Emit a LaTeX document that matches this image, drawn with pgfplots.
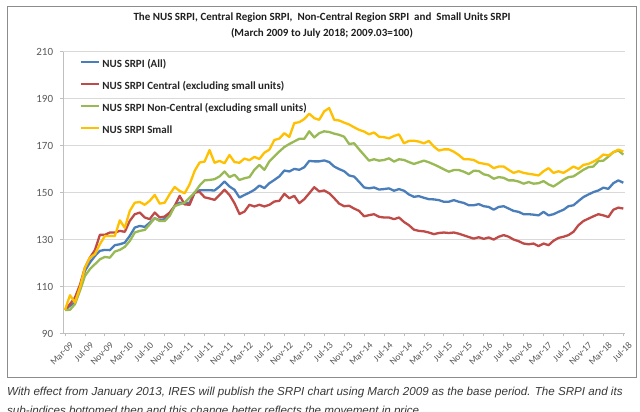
\documentclass[border=0pt]{standalone}
\usepackage{fontspec}
\setmainfont{Carlito}
\newfontfamily\capfont{Liberation Sans}
\usepackage{pgfplots}
\usepackage{pgfplotstable}
\pgfplotsset{compat=1.18}
\definecolor{sblue}{HTML}{4A7EBB}
\definecolor{sred}{HTML}{BE4B48}
\definecolor{sgreen}{HTML}{98B954}
\definecolor{syellow}{HTML}{FFC000}
\definecolor{framegray}{HTML}{8C8C8C}
\definecolor{gridgray}{HTML}{D9D9D9}
\definecolor{axisgray}{HTML}{BFBFBF}
\definecolor{labgray}{HTML}{595959}

\pgfplotstableread{
i A C N S
0 100 100 100 100
1 101.8 102.5 100.1 106.3
2 103.2 105.3 102.5 103.2
3 109.6 110.7 108.2 109.6
4 116.7 118 114.5 118
5 120.2 122.3 117.4 122.3
6 123 125.5 119.5 123.8
7 125.2 132 121.6 128
8 125.6 132 122.6 131.5
9 125.5 133 122.3 131.5
10 127.6 133 124.9 131.5
11 128 133.7 125.6 138.2
12 128.7 133.3 126.9 135
13 131.6 138 129.4 142.2
14 135.1 140.8 133 145.7
15 135.8 141.5 133.7 146
16 135.4 139.4 134.1 144.8
17 137.2 138.7 136.5 146.5
18 139.1 141.5 139.1 149
19 138.2 139.4 137.9 145.3
20 138.7 139.8 137.9 145.7
21 140.8 141.5 140.1 149.3
22 144.3 144.3 144.3 152.4
23 145.7 148.6 145 150.7
24 145.3 145 145.7 149.7
25 145.7 144.8 147.9 153.5
26 150 150 150 159.2
27 151 150.3 153 162.8
28 151 148 155.2 163.2
29 151 147.5 155.4 168.1
30 150.9 146.9 155.7 162.7
31 152.6 149 156.9 163.5
32 154.7 151.2 159 162.5
33 152.6 149 156.6 166
34 151.2 145.5 157.6 163
35 147.9 140.9 155.4 162.7
36 149 141.9 156.1 164.5
37 150 144.8 156.6 163.8
38 151.2 144.1 159.7 165.2
39 153 144.8 161.8 164.3
40 151.9 144.1 159.7 167
41 154 144.8 163.3 168.3
42 155.4 146.2 165.4 172.4
43 156.9 146.5 167.5 173
44 159.4 149.5 169.4 175.3
45 159 147.6 170.7 173.7
46 160.1 148.6 171.8 179.6
47 159.7 145.5 172.9 180
48 160.8 147.2 172.9 181.3
49 163.5 149.7 176.1 183.6
50 163.3 152.3 173.5 181.7
51 163.3 150.5 175.3 181
52 163.7 150.9 176.1 184.6
53 163 149.7 175.8 186
54 161.1 147.6 175.1 181
55 160 145.3 174.6 180.7
56 159.1 144.2 173.8 179.8
57 157.3 144.4 170.7 179
58 156.8 143.2 171 177.8
59 154.6 142.2 168.4 176.7
60 152.2 139.9 166 176
61 151.8 140.4 163.6 174.8
62 152.2 140.8 164.2 175.6
63 151.3 139.7 163.6 173.8
64 151.5 139.4 163.9 173.6
65 151.8 139.4 164.6 173.1
66 150.8 138.7 163.2 174.1
67 151.5 139.4 164.2 174.8
68 150.8 137.5 163.9 171
69 149.2 136.1 163 172
70 148.2 134.2 162.2 172.1
71 148.5 133.7 162.9 171.7
72 147.8 133.5 163.6 171
73 147.2 133 162.9 172
74 147.1 132.3 162 169.6
75 146.8 132.8 161 167.9
76 146.1 133 159.9 168.4
77 146.1 132.8 158.9 168.4
78 146.8 133 159.6 167.4
79 146.1 132.5 159.6 166
80 145.6 131.8 158.9 164.2
81 144.6 131.1 157.9 164.2
82 144.6 130.4 159.3 163.9
83 145.1 131 159.2 162.7
84 144.2 130.3 157.8 162.3
85 143.9 130.9 157.3 161.9
86 142.7 130 155.9 160.4
87 143.9 131.2 156.6 161.1
88 144.2 131.9 156.3 161.1
89 143.2 131.2 155.2 159.7
90 142.2 130 155.2 158.4
91 141.8 129.3 154.7 159.1
92 140.8 128.3 153.8 158.4
93 140.8 128 154.5 158
94 140.6 128.3 153.8 157.7
95 140.3 127.2 154 157.3
96 141.8 128.3 154.9 159.1
97 140.3 127.6 153.5 160.4
98 140.8 129.5 152.6 158.4
99 141.8 130.7 154 159.1
100 142.7 131.2 155.5 158.4
101 144.2 131.9 156.6 159.7
102 144.6 133.3 156.9 161.1
103 146.4 136.1 158.3 160.1
104 148.1 137.9 159.7 161.8
105 149.2 138.9 160.8 162.2
106 150.2 139.9 161.1 163.2
107 150.9 140.8 163.4 164.4
108 152.1 140.3 163.6 166.2
109 151.6 139.6 165.3 165.8
110 154 142.7 167.2 167.2
111 155.2 143.6 167.9 168.3
112 154.2 143.2 166.2 167.5
}\srpi

\begin{document}
\begin{tikzpicture}[x=1pt,y=1pt]
\useasboundingbox (0,0) rectangle (640,412);
\fill[white] (0,0) rectangle (640,412);
\draw[framegray, line width=0.8pt] (7.3,406) rectangle (636,35);
\node[font=\bfseries\fontsize{11}{13}\selectfont, text=black!88, anchor=base] at (322,391.2)
  {The NUS SRPI, Central Region SRPI,\ \ Non-Central Region SRPI\ \ and\ \ Small Units SRPI};
\node[font=\bfseries\fontsize{11}{13}\selectfont, text=black!88, anchor=base] at (322,375.2)
  {(March 2009 to July 2018; 2009.03=100)};
\node[font=\capfont\itshape\fontsize{11.6}{13}\selectfont, text=black!78, anchor=base west, inner sep=0pt] at (7,16)
  {With effect from January 2013, IRES will publish the SRPI chart using March 2009 as the base period. The SRPI and its};
\node[font=\capfont\itshape\fontsize{11.6}{13}\selectfont, text=black!78, anchor=base west, inner sep=0pt] at (7,-3)
  {sub-indices bottomed then and this change better reflects the movement in price.};
\begin{axis}[
  at={(63.3pt,78.5pt)}, anchor=south west, scale only axis,
  width=561.7pt, height=281.8pt,
  xmin=-0.34, xmax=112.34, ymin=90, ymax=210,
  ytick={90,110,...,210},
  xtick={0,4,...,112},
  xticklabels={Mar-09,Jul-09,Nov-09,Mar-10,Jul-10,Nov-10,Mar-11,Jul-11,Nov-11,Mar-12,Jul-12,Nov-12,Mar-13,Jul-13,Nov-13,Mar-14,Jul-14,Nov-14,Mar-15,Jul-15,Nov-15,Mar-16,Jul-16,Nov-16,Mar-17,Jul-17,Nov-17,Mar-18,Jul-18},
  axis x line*=bottom, axis y line*=left,
  axis line style={draw=axisgray, line width=0.8pt, -},
  ymajorgrids, grid style={draw=gridgray, line width=0.8pt},
  tick align=outside, major tick length=3pt,
  tick style={draw=axisgray, line width=0.8pt},
  /pgf/number format/assume math mode=true,
  yticklabel style={font=\fontsize{11}{12}\selectfont, text=labgray, inner sep=0pt, xshift=-7pt},
  xticklabel style={font=\fontsize{9.5}{10}\selectfont, text=labgray, rotate=45, anchor=east, inner sep=0pt, xshift=0pt, yshift=-10pt},
  legend cell align=left,
  legend image code/.code={\draw[#1] (0pt,3pt) -- (18pt,3pt);},
  legend style={at={(axis description cs:0.0297,0.9695)}, anchor=north west, draw=none, fill=none,
    font=\bfseries\fontsize{11}{13}\selectfont, text=black!85, inner sep=0pt, row sep=12.4pt, column sep=2pt,
    nodes={inner sep=0pt, text height=7.5pt, text depth=2pt}},
]
\addplot[sblue, line width=2.3pt, line join=round] table[x=i, y=A] {\srpi};
\addlegendentry{NUS SRPI (All)}
\addplot[sred, line width=2.3pt, line join=round] table[x=i, y=C] {\srpi};
\addlegendentry{NUS SRPI Central (excluding small units)}
\addplot[sgreen, line width=2.3pt, line join=round] table[x=i, y=N] {\srpi};
\addlegendentry{NUS SRPI Non-Central (excluding small units)}
\addplot[syellow, line width=2.3pt, line join=round] table[x=i, y=S] {\srpi};
\addlegendentry{NUS SRPI Small}
\end{axis}
\end{tikzpicture}
\end{document}
